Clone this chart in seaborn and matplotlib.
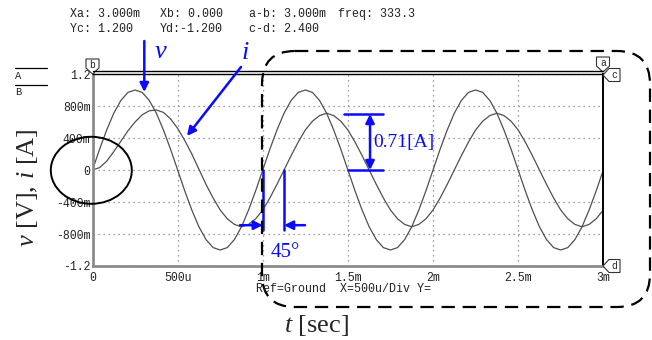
import numpy as np
import matplotlib
matplotlib.use("Agg")
import matplotlib.pyplot as plt
import seaborn as sns
from matplotlib.patches import FancyBboxPatch, Ellipse, Polygon

# ---------------- data ----------------
# samples every 1/24 ms (15 degrees of a 1 kHz cycle), 0 .. 3 ms
v_values = [0.00, 0.26, 0.50, 0.71, 0.87, 0.97, 1.00, 0.97, 0.87, 0.71, 0.50, 0.26,
            0.00, -0.26, -0.50, -0.71, -0.87, -0.97, -1.00, -0.97, -0.87, -0.71, -0.50, -0.26,
            0.00, 0.26, 0.50, 0.71, 0.87, 0.97, 1.00, 0.97, 0.87, 0.71, 0.50, 0.26,
            0.00, -0.26, -0.50, -0.71, -0.87, -0.97, -1.00, -0.97, -0.87, -0.71, -0.50, -0.26,
            0.00, 0.26, 0.50, 0.71, 0.87, 0.97, 1.00, 0.97, 0.87, 0.71, 0.50, 0.26,
            0.00, -0.26, -0.50, -0.71, -0.87, -0.97, -1.00, -0.97, -0.87, -0.71, -0.50, -0.26,
            0.00]
i_values = [0.00, 0.03, 0.11, 0.23, 0.36, 0.49, 0.60, 0.69, 0.74, 0.75, 0.72, 0.64,
            0.52, 0.37, 0.20, 0.01, -0.18, -0.35, -0.50, -0.61, -0.68, -0.71, -0.68, -0.61,
            -0.50, -0.35, -0.18, 0.00, 0.18, 0.35, 0.50, 0.61, 0.68, 0.71, 0.68, 0.61,
            0.50, 0.35, 0.18, 0.00, -0.18, -0.35, -0.50, -0.61, -0.68, -0.71, -0.68, -0.61,
            -0.50, -0.35, -0.18, 0.00, 0.18, 0.35, 0.50, 0.61, 0.68, 0.71, 0.68, 0.61,
            0.50, 0.35, 0.18, 0.00, -0.18, -0.35, -0.50, -0.61, -0.68, -0.71, -0.68, -0.61,
            -0.50]
t_ms = np.linspace(0.0, 3.0, len(v_values))

x_ticks = [0, 0.5, 1.0, 1.5, 2.0, 2.5, 3.0]
x_tick_labels = ["0", "500u", "1m", "1.5m", "2m", "2.5m", "3m"]
y_ticks = [-1.2, -0.8, -0.4, 0.0, 0.4, 0.8, 1.2]
y_tick_labels = ["-1.2", "-800m", "-400m", "0", "400m", "800m", "1.2"]

header_row1 = [("Xa: 3.000m", 70), ("Xb: 0.000", 160), ("a-b: 3.000m", 249), ("freq: 333.3", 338)]
header_row2 = [("Yc: 1.200", 70), ("Yd:-1.200", 160), ("c-d: 2.400", 249)]

# ---------------- style ----------------
sns.set_style("white")
plt.rcParams["font.family"] = ["Liberation Mono", "DejaVu Sans Mono"]
plt.rcParams["mathtext.fontset"] = "custom"
plt.rcParams["mathtext.it"] = "Liberation Serif:italic"
plt.rcParams["mathtext.rm"] = "Liberation Serif"

W, H = 652, 340
fig = plt.figure(figsize=(W / 100, H / 100), dpi=100)
fig.patch.set_facecolor("white")

x0, x1, ytop, ybot = 92.5, 603.3, 74, 266
ax = fig.add_axes([x0 / W, 1 - ybot / H, (x1 - x0) / W, (ybot - ytop) / H])
ax.set_facecolor("white")

trace = "#505050"
sns.lineplot(x=t_ms, y=v_values, ax=ax, color=trace, lw=0.9, estimator=None, sort=False)
sns.lineplot(x=t_ms, y=i_values, ax=ax, color=trace, lw=0.9, estimator=None, sort=False)

ax.set_xlim(0, 3)
ax.set_ylim(-1.2, 1.2)
ax.set_xticks(x_ticks)
ax.set_xticklabels(x_tick_labels)
ax.set_yticks(y_ticks)
ax.set_yticklabels(y_tick_labels)
ax.set_xticks(np.arange(0, 3.001, 0.1), minor=True)
ax.set_yticks(np.arange(-1.2, 1.201, 0.08), minor=True)
ax.grid(True, which="major", ls=(0, (1, 3)), color="#808080", lw=0.9)
ax.set_axisbelow(True)
ax.tick_params(which="both", direction="in", color="#333333", width=0.8,
               top=False, right=False)
ax.tick_params(axis="y", which="both", length=4.5, pad=1.5, labelsize=8.3, labelcolor="#222222")
ax.tick_params(axis="x", which="both", length=4.0, pad=4, labelsize=8.3, labelcolor="#222222")
ax.set_xlabel("")
ax.set_ylabel("")

for s in ["left", "bottom"]:
    ax.spines[s].set_color("#8c8c8c")
    ax.spines[s].set_linewidth(2.0)
ax.spines["right"].set_color("black")
ax.spines["right"].set_linewidth(1.4)
ax.spines["top"].set_color("black")
ax.spines["top"].set_linewidth(1.0)

blue = "#0a0aff"
# 45 degree phase annotation (data coords)
ax.plot([1.0, 1.0], [0.0, -0.75], color=blue, lw=1.8, clip_on=False, zorder=5)
ax.plot([1.125, 1.125], [0.0, -0.75], color=blue, lw=1.8, clip_on=False, zorder=5)
ax.annotate("", xy=(1.0, -0.69), xytext=(0.866, -0.69),
            arrowprops=dict(arrowstyle="-|>", color=blue, lw=1.8, mutation_scale=13,
                            shrinkA=0, shrinkB=0), zorder=6)
ax.annotate("", xy=(1.125, -0.69), xytext=(1.248, -0.69),
            arrowprops=dict(arrowstyle="-|>", color=blue, lw=1.8, mutation_scale=13,
                            shrinkA=0, shrinkB=0), zorder=6)
ax.text(1.13, -1.03, "45°", color=blue, fontsize=15, family=["Liberation Serif"],
        ha="center", va="center", zorder=6)
# 0.71 amplitude annotation
ax.plot([1.477, 1.706], [0.70, 0.70], color=blue, lw=1.8, zorder=5)
ax.plot([1.50, 1.706], [0.0, 0.0], color=blue, lw=1.8, zorder=5)
ax.annotate("", xy=(1.63, 0.70), xytext=(1.63, 0.0),
            arrowprops=dict(arrowstyle="<|-|>", color=blue, lw=1.8, mutation_scale=13,
                            shrinkA=0, shrinkB=0), zorder=6)
ax.text(1.647, 0.34, "0.71[A]", color=blue, fontsize=14, family=["Liberation Serif"],
        ha="left", va="center", zorder=6)

# ---------------- overlay in pixel coordinates ----------------
ov = fig.add_axes([0, 0, 1, 1], zorder=10)
ov.set_xlim(0, W)
ov.set_ylim(H, 0)
ov.axis("off")
ov.patch.set_alpha(0)

mono = ["Liberation Mono", "DejaVu Sans Mono"]
for txt, xp in header_row1:
    ov.text(xp, 14, txt, fontsize=8.4, family=mono, ha="left", va="center", color="#222222")
for txt, xp in header_row2:
    ov.text(xp, 29, txt, fontsize=8.4, family=mono, ha="left", va="center", color="#222222")
ov.text(256, 289, "Ref=Ground  X=500u/Div Y=", fontsize=8.4, family=mono,
        ha="left", va="center", color="#222222")

# A / B labels
ov.plot([15, 47], [68, 68], color="black", lw=0.9)
ov.text(15, 76, "A", fontsize=7.5, family=mono, ha="left", va="center", color="#222222")
ov.plot([15, 47], [85, 85], color="black", lw=0.9)
ov.text(15, 92, "B", fontsize=7.5, family=mono, ha="left", va="center", color="#222222")

# second line above the top
ov.plot([x0, x1], [71, 71], color="black", lw=1.0)

# cursor markers
def shield(cx, top, label):
    pts = [(cx - 6.5, top), (cx + 6.5, top), (cx + 6.5, top + 9), (cx, top + 15), (cx - 6.5, top + 9)]
    ov.add_patch(Polygon(pts, closed=True, fc="white", ec="#333333", lw=0.8))
    ov.text(cx, top + 6, label, fontsize=7, family=mono, ha="center", va="center")

def flag(tipx, cy, label):
    pts = [(tipx, cy), (tipx + 6, cy - 6.5), (tipx + 17, cy - 6.5), (tipx + 17, cy + 6.5), (tipx + 6, cy + 6.5)]
    ov.add_patch(Polygon(pts, closed=True, fc="white", ec="#333333", lw=0.8))
    ov.text(tipx + 11.5, cy, label, fontsize=7, family=mono, ha="center", va="center")

shield(92.5, 59, "b")
shield(603, 57, "a")
flag(603, 75, "c")
flag(603, 266, "d")

# blue arrows and labels v, i
ov.annotate("", xy=(144.3, 92), xytext=(144.3, 41),
            arrowprops=dict(arrowstyle="-|>", color=blue, lw=1.8, mutation_scale=13,
                            shrinkA=0, shrinkB=0))
ov.annotate("", xy=(187, 136), xytext=(241, 67),
            arrowprops=dict(arrowstyle="-|>", color=blue, lw=1.8, mutation_scale=13,
                            shrinkA=0, shrinkB=0))
ov.text(161, 51, "$v$", color=blue, fontsize=19, ha="center", va="center")
ov.text(245, 52, "$i$", color=blue, fontsize=19, ha="center", va="center")

# black ellipse around origin
ov.add_patch(Ellipse((91.3, 170.3), 81, 67, fill=False, ec="black", lw=1.4))

# dashed rounded rectangle
ov.add_patch(FancyBboxPatch((262, 51), 388, 256, boxstyle="round,pad=0,rounding_size=33",
                            fill=False, ec="black", lw=1.6, ls=(0, (6, 3.5))))

# axis labels
ov.text(27, 188, "$v$ [V], $i$ [A]", fontsize=19, rotation=90, ha="center", va="center",
        family=["Liberation Serif"])
ov.text(317, 325, "$t$ [sec]", fontsize=19, ha="center", va="center",
        family=["Liberation Serif"])

fig.savefig("out.png", dpi=100)
